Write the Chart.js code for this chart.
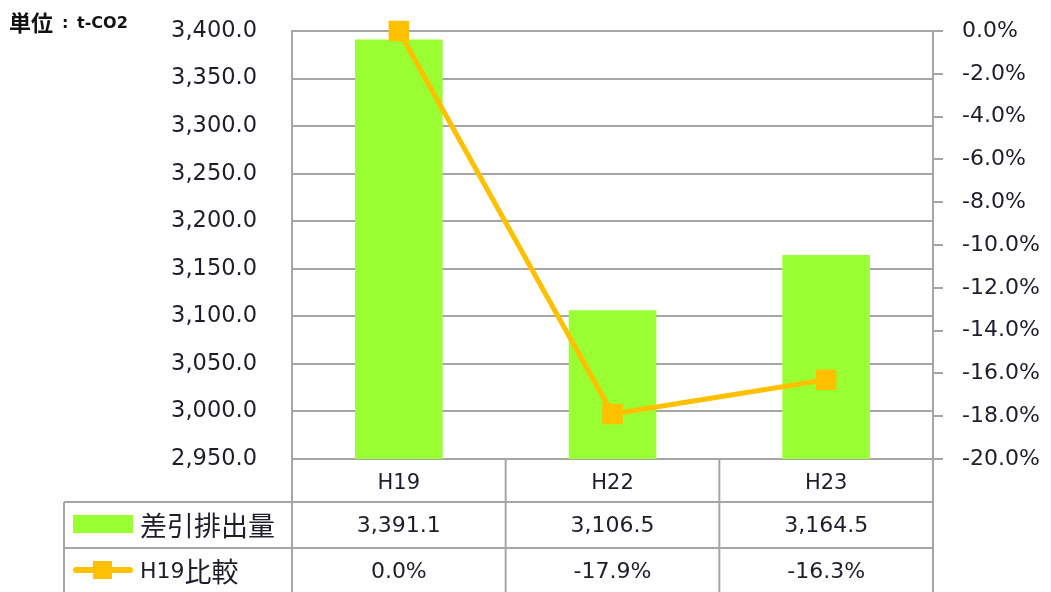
<!DOCTYPE html>
<html>
<head>
<meta charset="utf-8">
<script src="https://cdn.jsdelivr.net/npm/chart.js@4/dist/chart.umd.min.js"></script>
<style>
  html, body { margin: 0; padding: 0; background: #fff; }
  #wrap { position: relative; width: 1051px; height: 592px; }
</style>
</head>
<body>
<div id="wrap"><canvas id="c" width="1051" height="592"></canvas></div>
<script>
/* Excel-style combo: green bars (left axis) + orange ratio line (right axis) with data table */
const categories = ['H19', 'H22', 'H23'];
const emissions = [3391.1, 3106.5, 3164.5];      // 差引排出量 (t-CO2)
const ratioVsH19 = [0.0, -17.9, -16.3];          // H19比較 (%)
const seriesNames = ['差引排出量', 'H19比較'];
const unitLabel = ['単位', ':', 't-CO2'];

const BAR = '#99FF33';
const LINE = '#FFC000';
const GRID = '#a6a6a6';
const TXT = '#1e1e2a';
const NUM_FONT = "'DejaVu Sans', Verdana, sans-serif";
const CJK_FONT = "'Noto Sans CJK JP', sans-serif";

function fmtNum(v) {
  return v.toLocaleString('en-US', { minimumFractionDigits: 1, maximumFractionDigits: 1 });
}
function fmtPct(v) {
  return (Math.abs(v) < 1e-9 ? 0 : v).toFixed(1) + '%';
}
// stop tick padding from pushing the plot area down
function fixVertical(width) {
  return s => { s.width = width; s.paddingTop = 0; s.paddingBottom = 0; };
}

const tablePlugin = {
  id: 'dataTable',
  afterDraw(chart) {
    const { ctx, chartArea } = chart;
    const xs = chart.scales.x;
    const step = xs.width / categories.length;
    const L = 64, R = chartArea.right, B = chartArea.bottom;
    const r1 = 502, r2 = 548, bot = 592;
    ctx.save();
    ctx.strokeStyle = GRID;
    ctx.lineWidth = 2;
    ctx.beginPath();
    // horizontal rules
    [r1, r2].forEach(y => { ctx.moveTo(L, y); ctx.lineTo(R, y); });
    // vertical rules
    ctx.moveTo(L, r1); ctx.lineTo(L, bot);
    for (let i = 0; i <= categories.length; i++) {
      const x = chartArea.left + i * step;
      ctx.moveTo(x, B); ctx.lineTo(x, bot);
    }
    ctx.stroke();

    // values
    ctx.fillStyle = TXT;
    ctx.font = '22px ' + NUM_FONT;
    ctx.textAlign = 'center';
    ctx.textBaseline = 'middle';
    categories.forEach((c, i) => {
      const x = xs.getPixelForValue(i);
      ctx.fillText(fmtNum(emissions[i]), x, 526);
      ctx.fillText(fmtPct(ratioVsH19[i]), x, 572);
    });

    // legend keys
    ctx.fillStyle = BAR;
    ctx.fillRect(73, 515, 60, 18);
    ctx.strokeStyle = LINE;
    ctx.lineWidth = 6;
    ctx.lineCap = 'round';
    ctx.beginPath(); ctx.moveTo(76, 570); ctx.lineTo(130, 570); ctx.stroke();
    ctx.fillStyle = LINE;
    ctx.fillRect(93, 561, 19, 18);

    ctx.fillStyle = TXT;
    ctx.textAlign = 'left';
    ctx.font = '27px ' + CJK_FONT;
    ctx.fillText(seriesNames[0], 140, 526);
    ctx.font = '22px ' + NUM_FONT;
    const h = seriesNames[1].slice(0, 3);
    ctx.fillText(h, 140, 572);
    const w = ctx.measureText(h).width;
    ctx.font = '27px ' + CJK_FONT;
    ctx.fillText(seriesNames[1].slice(3), 140 + w, 572);

    // unit caption
    ctx.fillStyle = '#111';
    ctx.font = 'bold 22px ' + CJK_FONT;
    ctx.fillText(unitLabel[0], 9, 23);
    ctx.font = 'bold 16px ' + NUM_FONT;
    ctx.fillText(unitLabel[1], 62, 24);
    ctx.fillText(unitLabel[2], 77, 24);
    ctx.restore();
  }
};

new Chart(document.getElementById('c'), {
  data: {
    labels: categories,
    datasets: [
      {
        type: 'line',
        label: seriesNames[1],
        data: ratioVsH19,
        yAxisID: 'y1',
        order: 0,
        borderColor: LINE,
        backgroundColor: LINE,
        borderWidth: 5,
        pointStyle: 'rect',
        pointRadius: 14.5,
        pointBorderWidth: 0,
        pointBackgroundColor: LINE,
        tension: 0,
        clip: false
      },
      {
        type: 'bar',
        label: seriesNames[0],
        data: emissions,
        yAxisID: 'y',
        order: 1,
        backgroundColor: BAR,
        borderWidth: 0,
        barPercentage: 0.41,
        categoryPercentage: 1.0
      }
    ]
  },
  options: {
    responsive: false,
    animation: false,
    layout: { padding: { top: 31, left: 0, right: 0, bottom: 0 } },
    plugins: { legend: { display: false }, tooltip: { enabled: false } },
    scales: {
      x: {
        offset: true,
        grid: { display: false, drawTicks: false },
        border: { display: true, color: GRID, width: 2 },
        ticks: { color: TXT, font: { family: NUM_FONT, size: 21 }, padding: 12, maxRotation: 0 },
        afterFit: s => { s.height = 133; }
      },
      y: {
        position: 'left',
        min: 2950, max: 3400,
        ticks: { stepSize: 50, color: TXT, font: { family: NUM_FONT, size: 22.5 }, padding: 35, callback: v => fmtNum(v) },
        grid: { color: GRID, lineWidth: 2, drawTicks: false },
        border: { display: true, color: GRID, width: 2 },
        afterFit: fixVertical(292)
      },
      y1: {
        position: 'right',
        min: -20, max: 0,
        ticks: { stepSize: 2, color: TXT, font: { family: NUM_FONT, size: 22 }, padding: 19, callback: v => fmtPct(v) },
        grid: { drawOnChartArea: false, drawTicks: true, tickLength: 10, color: GRID, lineWidth: 2 },
        border: { display: true, color: GRID, width: 2 },
        afterFit: fixVertical(118)
      }
    }
  },
  plugins: [tablePlugin]
});
</script>
</body>
</html>
